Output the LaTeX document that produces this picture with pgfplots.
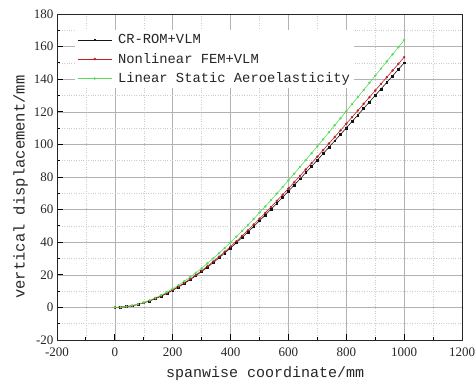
\documentclass[border=0pt]{standalone}
\usepackage{fontspec}
\setmainfont{Liberation Serif}
\newfontfamily\monof{Liberation Mono}
\usepackage{pgfplots}
\pgfplotsset{compat=1.18}
\definecolor{cblack}{RGB}{20,20,20}
\definecolor{cred}{RGB}{190,30,40}
\definecolor{cgreen}{RGB}{90,220,90}
\begin{document}
\begin{tikzpicture}
\useasboundingbox (-57pt,-45pt) rectangle (419pt,340pt);
\begin{axis}[at={(0,0)}, anchor=south west, scale only axis, width=405pt, height=326pt,
  xmin=-200, xmax=1200, ymin=-20, ymax=180,
  xtick distance=200, ytick distance=20, minor x tick num=1, minor y tick num=1,
  grid=both,
  major grid style={draw=gray!60, line width=0.5pt},
  minor grid style={draw=gray!40, dotted, line width=0.5pt},
  tick pos=left, tick align=inside, major tick length=6pt, minor tick length=3pt,
  axis line style={line width=0.9pt, black!85},
  every tick/.style={black, line width=0.9pt},
  ticklabel style={font=\fontsize{13}{14}\selectfont, text=black!85},
  xticklabel style={yshift=-4pt},
  /pgf/number format/assume math mode=true,
  /pgf/number format/1000 sep={},
  xlabel={spanwise coordinate/mm},
  ylabel={vertical displacement/mm},
  label style={text=black!85},
  xlabel style={font=\monof\fontsize{15}{16}\selectfont, at={(axis description cs:0.514,0)}, anchor=north, yshift=-26pt, inner sep=0pt},
  ylabel style={font=\monof\fontsize{15.5}{16}\selectfont, at={(axis description cs:-0.0716,0.469)}, anchor=south, inner sep=0pt},
  legend style={at={(0.045,0.95)}, anchor=north west, draw=none, fill=white,
    font=\monof\fontsize{13.8}{15}\selectfont, text=black!85, row sep=4pt, column sep=4pt, inner sep=2pt},
  legend cell align=left,
  legend image code/.code={\draw[#1,mark repeat=2,mark phase=2] plot coordinates {(0pt,0pt)(17pt,0pt)(34pt,0pt)};},
]
\addplot[cblack, line width=0.6pt, mark=square*, mark size=0.9pt] coordinates {
(0,0)(20,0.12)(40,0.47)(60,1.04)(80,1.82)(100,2.81)(120,3.98)(140,5.35)(160,6.89)(180,8.61)
(200,10.48)(220,12.51)(240,14.68)(260,16.99)(280,19.44)(300,22.01)(320,24.69)(340,27.49)(360,30.39)(380,33.39)
(400,36.48)(420,39.66)(440,42.92)(460,46.25)(480,49.66)(500,53.13)(520,56.65)(540,60.24)(560,63.87)(580,67.56)
(600,71.28)(620,75.04)(640,78.84)(660,82.67)(680,86.52)(700,90.41)(720,94.31)(740,98.23)(760,102.17)(780,106.12)
(800,110.08)(820,114.05)(840,118.03)(860,122.02)(880,126.01)(900,130.01)(920,134.00)(940,138.00)(960,142.00)(980,146.00)
(1000,150.00)};
\addlegendentry{CR-ROM+VLM}
\addplot[cred, line width=0.6pt, mark=*, mark size=0.9pt] coordinates {
(0,0)(20,0.12)(40,0.48)(60,1.06)(80,1.86)(100,2.87)(120,4.08)(140,5.48)(160,7.05)(180,8.81)
(200,10.72)(220,12.80)(240,15.02)(260,17.39)(280,19.89)(300,22.52)(320,25.27)(340,28.13)(360,31.10)(380,34.17)
(400,37.33)(420,40.58)(440,43.92)(460,47.33)(480,50.82)(500,54.36)(520,57.98)(540,61.64)(560,65.36)(580,69.13)
(600,72.94)(620,76.79)(640,80.68)(660,84.60)(680,88.54)(700,92.51)(720,96.51)(740,100.52)(760,104.55)(780,108.59)
(800,112.65)(820,116.71)(840,120.79)(860,124.86)(880,128.95)(900,133.04)(920,137.13)(940,141.22)(960,145.31)(980,149.41)
(1000,153.50)};
\addlegendentry{Nonlinear FEM+VLM}
\addplot[cgreen, line width=0.6pt, mark=*, mark size=0.9pt] coordinates {
(0,0)(20,0.13)(40,0.51)(60,1.13)(80,1.99)(100,3.07)(120,4.36)(140,5.85)(160,7.54)(180,9.41)
(200,11.46)(220,13.67)(240,16.05)(260,18.58)(280,21.25)(300,24.06)(320,27.00)(340,30.05)(360,33.22)(380,36.50)
(400,39.88)(420,43.36)(440,46.92)(460,50.57)(480,54.29)(500,58.08)(520,61.94)(540,65.86)(560,69.84)(580,73.86)
(600,77.93)(620,82.05)(640,86.20)(660,90.38)(680,94.60)(700,98.84)(720,103.11)(740,107.40)(760,111.70)(780,116.02)
(800,120.35)(820,124.70)(840,129.05)(860,133.41)(880,137.77)(900,142.14)(920,146.51)(940,150.88)(960,155.25)(980,159.63)
(1000,164.00)};
\addlegendentry{Linear Static Aeroelasticity}
\end{axis}
\end{tikzpicture}
\end{document}
